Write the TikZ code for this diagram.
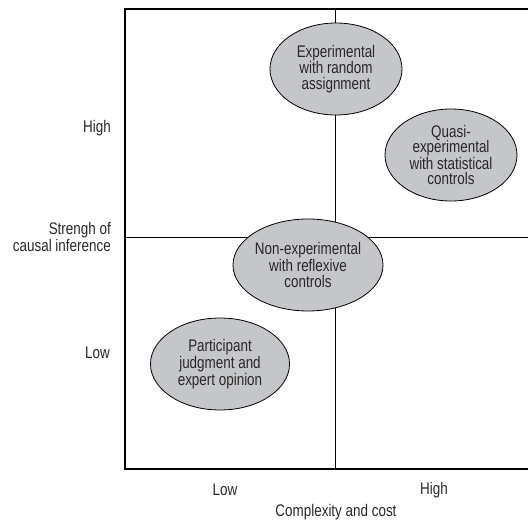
\documentclass[tikz,border=0pt]{standalone}
\usepackage{fontspec}
\setmainfont{Liberation Sans}[FakeStretch=0.8]
\usepackage{xcolor}
\usetikzlibrary{shapes.geometric}
\definecolor{ovalgray}{RGB}{197,198,201}
\definecolor{inkgray}{RGB}{40,40,40}
\tikzset{
  oval/.style={ellipse, draw=black, line width=0.8pt, fill=ovalgray, inner sep=0pt,
    minimum width=132pt, minimum height=92pt, align=center, text=inkgray,
    font=\fontsize{16.8}{15.5}\selectfont},
  axislabel/.style={font=\fontsize{16.8}{15.5}\selectfont, text=inkgray, inner sep=0pt, align=right}
}

\begin{document}
\begin{tikzpicture}[x=1pt,y=-1pt]
				\useasboundingbox (0,0) rectangle (528,521);
				
				% Quadrant lines
				\draw[line width=0.8pt] (335,8) -- (335,469);
				\draw[line width=0.8pt] (125,237) -- (528,237);
				
				% Frame, open on the right
				\draw[line width=1.3pt] (528,9) -- (125,9) -- (125,469) -- (528,469);
				
				% Ovals
				\node[oval] (exp) at (336,69) {Experimental\\with random\\assignment};
				\node[oval] (quasi) at (451,155) {Quasi-\\experimental\\with statistical\\controls};
				\node[oval, minimum width=139pt] (nonexp) at (308,265) {Non-experimental\\with reflexive\\controls};
				\node[oval, minimum width=139pt] (part) at (220,364) {Participant\\judgment and\\expert opinion};
				
				% Vertical axis labels
				\node[axislabel, anchor=east] (yhigh) at (111,128) {High};
				\node[axislabel, anchor=east] (ytitle) at (111,237) {Strengh of\\causal inference};
				\node[axislabel, anchor=east] (ylow) at (110,353) {Low};
				
				% Horizontal axis labels
				\node[axislabel] (xlow) at (225,490) {Low};
				\node[axislabel] (xhigh) at (434,490) {High};
				\node[axislabel] (xtitle) at (336,512) {Complexity and cost};
			\end{tikzpicture}
\end{document}
